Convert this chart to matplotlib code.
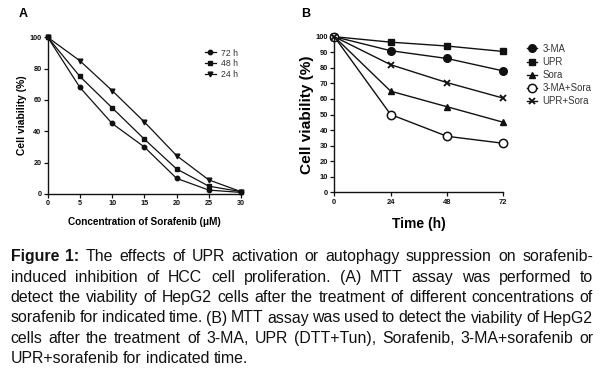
import matplotlib
matplotlib.use("Agg")
import matplotlib.pyplot as plt

plt.rcParams['font.family'] = ['Liberation Sans', 'DejaVu Sans']

# Panel A data
conc = [0, 5, 10, 15, 20, 25, 30]
via_72h = [100, 68, 45, 30, 10, 2.5, 1]
via_48h = [100, 75, 55, 35, 16, 5, 1.5]
via_24h = [100, 85, 66, 46, 24.5, 9, 1.5]
a_xticks = [0, 5, 10, 15, 20, 25, 30]
a_yticks = [0, 20, 40, 60, 80, 100]

# Panel B data
time_h = [0, 24, 48, 72]
b_3ma = [100, 91, 86, 78]
b_upr = [100, 96.5, 94, 90.5]
b_sora = [100, 65, 55, 45]
b_3ma_sora = [100, 50, 36, 31.5]
b_upr_sora = [100, 82, 70.5, 60.5]
b_yticks = [0, 10, 20, 30, 40, 50, 60, 70, 80, 90, 100]

caption_lines = [
    [("Figure 1:", True), ("The effects of UPR activation or autophagy suppression on sorafenib-", False)],
    [("induced inhibition of HCC cell proliferation. (A) MTT assay was performed to", False)],
    [("detect the viability of HepG2 cells after the treatment of different concentrations of", False)],
    [("sorafenib for indicated time. (B) MTT assay was used to detect the viability of HepG2", False)],
    [("cells after the treatment of 3-MA, UPR (DTT+Tun), Sorafenib, 3-MA+sorafenib or", False)],
    [("UPR+sorafenib for indicated time.", False)],
]

W, H = 616, 386
fig = plt.figure(figsize=(W / 100, H / 100), dpi=100)

def fx(px):
    return px / W

def fy(py):
    return 1 - py / H

def style_axes(ax):
    for s in ['top', 'right']:
        ax.spines[s].set_visible(False)
    for s in ['left', 'bottom']:
        ax.spines[s].set_linewidth(1.0)
        ax.spines[s].set_color('#111111')
    ax.tick_params(direction='out', length=3, width=0.9, colors='#111111', pad=1.5)

# ---------- Panel A ----------
axA = fig.add_axes([fx(47.7), fy(194), fx(241) - fx(47.7), fy(37.3) - fy(194)])
axA.plot(conc, via_72h, '-o', color='#111111', lw=0.9, ms=3.2, label='72 h', clip_on=False)
axA.plot(conc, via_48h, '-s', color='#111111', lw=0.9, ms=3.4, label='48 h', clip_on=False)
axA.plot(conc, via_24h, '-v', color='#111111', lw=0.9, ms=3.4, label='24 h', clip_on=False)
axA.set_xlim(0, 30)
axA.set_ylim(0, 100)
axA.set_xticks(a_xticks)
axA.set_yticks(a_yticks)
style_axes(axA)
for lab in axA.get_xticklabels() + axA.get_yticklabels():
    lab.set_fontsize(5.2)
    lab.set_fontweight('bold')
axA.set_xlabel('Concentration of Sorafenib (\u03bcM)', fontsize=7.2, fontweight='bold', labelpad=7)
axA.set_ylabel('Cell viability (%)', fontsize=7.4, fontweight='bold', labelpad=1.5)
legA = axA.legend(loc='upper left', frameon=False, fontsize=6.3, handlelength=1.3, handletextpad=0.6,
                  labelspacing=0.2, borderaxespad=0)
for t in legA.get_texts():
    t.set_color('#333333')
legA.set_bbox_to_anchor((fx(201), fy(45)), transform=fig.transFigure)
fig.text(fx(23), fy(14), 'A', fontsize=9, fontweight='bold', ha='center', va='center')

# ---------- Panel B ----------
axB = fig.add_axes([fx(334.3), fy(192.3), fx(503.3) - fx(334.3), fy(36.7) - fy(192.3)])
axB.plot(time_h, b_3ma, '-o', color='#111111', lw=1.0, ms=5.5, label='3-MA', clip_on=False)
axB.plot(time_h, b_upr, '-s', color='#111111', lw=1.0, ms=3.8, label='UPR', clip_on=False)
axB.plot(time_h, b_sora, '-^', color='#111111', lw=1.0, ms=5.0, label='Sora', clip_on=False)
axB.plot(time_h, b_3ma_sora, '-o', color='#111111', lw=1.0, ms=6.0, mfc='white', mew=1.1,
         label='3-MA+Sora', clip_on=False)
axB.plot(time_h, b_upr_sora, '-x', color='#111111', lw=1.0, ms=5.0, mew=1.3, label='UPR+Sora', clip_on=False)
axB.set_xlim(0, 72)
axB.set_ylim(0, 100)
axB.set_xticks(time_h)
axB.set_yticks(b_yticks)
style_axes(axB)
for lab in axB.get_xticklabels() + axB.get_yticklabels():
    lab.set_fontsize(5.4)
    lab.set_fontweight('bold')
axB.set_xlabel('Time (h)', fontsize=10, fontweight='bold', labelpad=8)
axB.set_ylabel('Cell viability (%)', fontsize=11.1, fontweight='bold', labelpad=1)
legB = axB.legend(loc='upper left', frameon=False, fontsize=6.9, handlelength=1.1,
                  handletextpad=0.5, labelspacing=0.32, borderaxespad=0)
for t in legB.get_texts():
    t.set_color('#333333')
legB.set_bbox_to_anchor((fx(523), fy(40)), transform=fig.transFigure)
fig.text(fx(306), fy(14), 'B', fontsize=9, fontweight='bold', ha='center', va='center')

# ---------- Caption (justified) ----------
fig.canvas.draw()
renderer = fig.canvas.get_renderer()
cap_fs = 11.4
left_px, right_px = 10.5, 593
baselines = [261.3, 281.7, 302.1, 322.5, 342.9, 363.3]

space_t = fig.text(0, 0, 'a a', fontsize=cap_fs)
aa_t = fig.text(0, 0, 'aa', fontsize=cap_fs)
space_w = space_t.get_window_extent(renderer=renderer).width - aa_t.get_window_extent(renderer=renderer).width
space_t.remove()
aa_t.remove()

for i, segs in enumerate(caption_lines):
    words = []
    for text, bold in segs:
        for w in text.split(' '):
            words.append((w, bold))
    artists = []
    widths = []
    for w, bold in words:
        t = fig.text(0, fy(baselines[i]), w, fontsize=cap_fs, fontweight='bold' if bold else 'normal',
                     color='#111111', va='baseline', ha='left')
        bb = t.get_window_extent(renderer=renderer)
        artists.append(t)
        widths.append(bb.width)
    last = (i == len(caption_lines) - 1)
    total = sum(widths)
    n_gaps = len(words) - 1
    if last or n_gaps == 0:
        gap = space_w
    else:
        gap = (right_px - left_px - total) / n_gaps
    x = left_px
    for t, w in zip(artists, widths):
        t.set_x(fx(x))
        x += w + gap

fig.savefig('out.png', dpi=100)
